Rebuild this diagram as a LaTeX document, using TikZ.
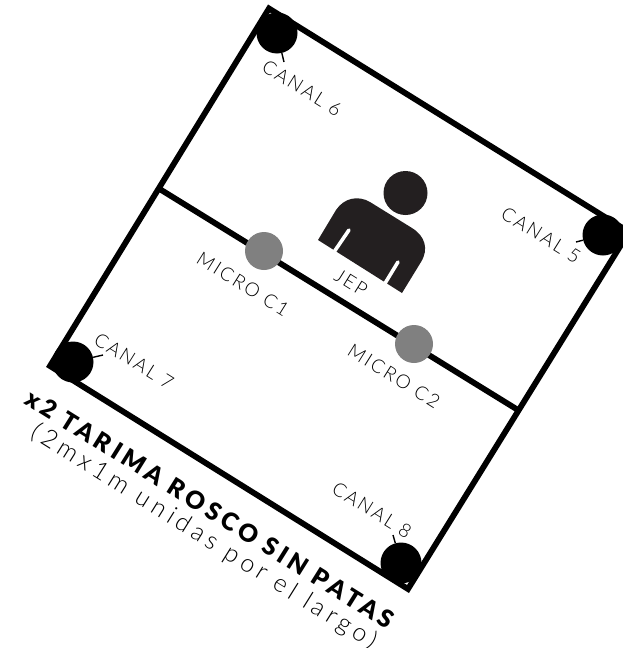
\documentclass[tikz,border=0pt]{standalone}
\usepackage{fontspec}
\setmainfont{Lato}
\newfontfamily\lbl[LetterSpace=12]{Lato Light}
\newfontfamily\lblb[LetterSpace=17]{Lato Black}
\newfontfamily\lbs[LetterSpace=19]{Lato Light}
\definecolor{body}{HTML}{231F20}
\tikzset{
  wall/.style={draw=black,line width=5.8pt,line join=miter},
  spk/.style={circle,fill=black,minimum size=41pt,inner sep=0pt},
  mic/.style={circle,fill=black!50,minimum size=38pt,inner sep=0pt},
  tick/.style={draw=black,line width=1.4pt},
  lab/.style={rotate=-32,inner sep=0pt,text=black,font=\lbl\fontsize{19}{21}\selectfont},
  ttl/.style={rotate=-32,inner sep=0pt,text=black,font=\lblb\fontsize{24.5}{27}\selectfont},
  sub/.style={rotate=-32,inner sep=0pt,text=black,font=\lbs\fontsize{25}{28}\selectfont},
}
\begin{document}
\begin{tikzpicture}[x=1pt,y=-1pt]
\useasboundingbox (0,0) rectangle (623,648);
\clip (0,0) rectangle (623,648);
% platform
\coordinate (T) at (269,8.5);
\coordinate (R) at (629,232);
\coordinate (B) at (408,589);
\coordinate (L) at (50,366);
\path[wall] (T) -- (R) -- (B) -- (L) -- cycle;
\coordinate (mA) at (158,188);
\coordinate (mB) at (518,410);
\path[wall] (mA) -- (mB);
% speakers
\node[spk] (c6) at (277,33) {};
\node[spk] (c5) at (603,235) {};
\node[spk] (c7) at (73,362) {};
\node[spk] (c8) at (401,563) {};
\coordinate (t6) at (284,62);
\coordinate (t5) at (576,242);
\coordinate (t7) at (103,355);
\coordinate (t8) at (393,535);
\draw[tick] (c6) -- (t6);
\draw[tick] (c5) -- (t5);
\draw[tick] (c7) -- (t7);
\draw[tick] (c8) -- (t8);
% mics
\node[mic] (m1) at (264,251) {};
\node[mic] (m2) at (414,344) {};
% person
\node[circle,fill=body,minimum size=44pt,inner sep=0pt] (head) at (405.5,193) {};
\fill[body] (318,240) -- (336,210)
  .. controls (344,198) and (358,195) .. (370,202)
  -- (412,228)
  .. controls (425,236) and (429,249) .. (421,262)
  -- (402,293) -- (318,240) -- cycle;
\draw[white,line width=3.6pt,line cap=round] (334,252) -- (349,230);
\draw[white,line width=3.6pt,line cap=round] (384,285) -- (398,262);
% labels
\node[lab] (l6) at (302,88) {CANAL 6};
\node[lab] (l5) at (541,235) {CANAL 5};
\node[lab] (l7) at (134,361) {CANAL 7};
\node[lab] (l8) at (372,510) {CANAL 8};
\node[lab] (lm1) at (243,284) {MICRO C1};
\node[lab] (lm2) at (394,376) {MICRO C2};
\node[lab] (lj) at (351,283) {JEP};
\node[ttl] (title) at (210,509) {x2 TARIMA ROSCO SIN PATAS};
\node[sub] (subt) at (204,537) {(2mx1m unidas por el largo)};
\end{tikzpicture}
\end{document}
